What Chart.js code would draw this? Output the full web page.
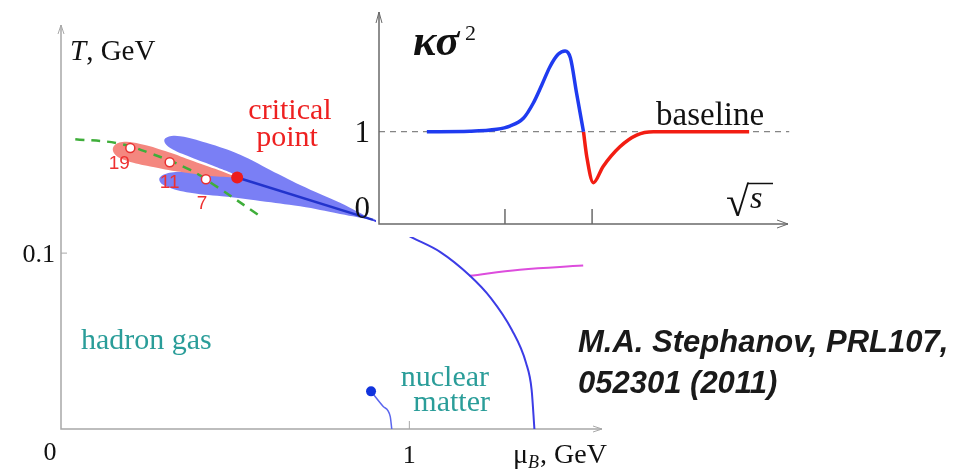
<!DOCTYPE html>
<html>
<head>
<meta charset="utf-8">
<script src="https://cdn.jsdelivr.net/npm/chart.js@4.4.0/dist/chart.umd.min.js"></script>
<style>
  html, body { margin: 0; padding: 0; background: #fff; }
  #wrap { position: relative; width: 961px; height: 471px; }
  #wrap canvas { position: absolute; left: 0; top: 0; }
</style>
</head>
<body>
<div id="wrap">
  <canvas id="phaseChart" width="961" height="471"></canvas>
  <canvas id="insetChart" width="961" height="471"></canvas>
</div>
<script>
/* global Chart */

// ---- phase diagram: mu_B (GeV) on x, T (GeV) on y ----
const xTicks = [1];
const xTickLabels = ['1'];
const yTicks = [0.1];
const yTickLabels = ['0.1'];

// blue band around the first-order line (both lobes, one outline)
const blueBand = [
  [0.8959, 0.1189], [0.8012, 0.1286], [0.6865, 0.1388], [0.6004, 0.1473],
  [0.5143, 0.1559], [0.4168, 0.1627], [0.3422, 0.1664], [0.3078, 0.1661],
  [0.2963, 0.1638], [0.3135, 0.1598], [0.3709, 0.1547], [0.4455, 0.1490],
  [0.4971, 0.1445], [0.4283, 0.1456], [0.3422, 0.1462], [0.2935, 0.1445],
  [0.2820, 0.1416], [0.2992, 0.1382], [0.3709, 0.1343], [0.4771, 0.1320],
  [0.5717, 0.1297], [0.6865, 0.1266], [0.8012, 0.1223], [0.8959, 0.1189],
];
// red band (freeze-out region)
const redBand = [
  [0.5057, 0.1430], [0.4426, 0.1479], [0.3709, 0.1530], [0.2992, 0.1581],
  [0.2275, 0.1621], [0.1758, 0.1632], [0.1500, 0.1604], [0.1558, 0.1559],
  [0.1902, 0.1524], [0.2562, 0.1493], [0.3422, 0.1462], [0.4283, 0.1439],
  [0.5057, 0.1430],
];
const criticalLine = [[0.5057, 0.1430], [0.8959, 0.1189]];
const transitionLine = [
  [0.8959, 0.1189], [0.955, 0.1140], [1.011, 0.1085], [1.088, 0.1007],
  [1.174, 0.0871], [1.234, 0.0744], [1.294, 0.0564], [1.335, 0.0375],
  [1.351, 0.0223], [1.359, 0.0],
];
const magentaLine = [[1.172, 0.0871], [1.317, 0.0906], [1.499, 0.0929]];
const nuclearLine = [[0.890, 0.0214], [0.925, 0.0128], [0.945, 0.0072], [0.9495, 0.0]];
const nuclearPoint = [[0.890, 0.0214]];
const freezeOut = [
  [0.041, 0.1648], [0.161, 0.1625], [0.256, 0.1568],
  [0.371, 0.1473], [0.447, 0.1378], [0.566, 0.1218],
];
const energies = [[0.199, 0.1597], [0.312, 0.1517], [0.416, 0.1420]];
const energyLabels = ['19', '11', '7'];
const criticalPoint = [[0.5057, 0.1430]];

// ---- inset: kappa sigma^2 vs sqrt(s) ----
const kurtBlue = [
  [1.17, 1.0], [2.22, 1.005], [2.88, 1.026], [3.20, 1.061], [3.53, 1.145],
  [3.77, 1.308], [3.98, 1.506], [4.18, 1.704], [4.38, 1.838], [4.55, 1.874],
  [4.68, 1.80], [4.83, 1.42], [5.00, 1.0],
];
const kurtRed = [
  [5.00, 1.0], [5.08, 0.729], [5.24, 0.447], [5.48, 0.624], [5.89, 0.837],
  [6.30, 0.964], [6.71, 1.0], [7.85, 1.0], [9.05, 1.0],
];
const baselineLine = [[0, 1], [10.03, 1]];
const insetXTicks = [3.08, 5.21];
const insetYTicks = [1, 0];
const insetYTickLabels = ['1', '0'];

const SERIF = "'Liberation Serif', 'DejaVu Serif', serif";
const SANS = "'Liberation Sans', Arial, sans-serif";

const pts = (arr) => arr.map(([x, y]) => ({ x, y }));

function text(ctx, str, px, py, font, color, align) {
  ctx.font = font;
  ctx.fillStyle = color;
  ctx.textAlign = align || 'left';
  ctx.textBaseline = 'alphabetic';
  ctx.fillText(str, px, py);
}

function arrowHead(ctx, px, py, dir, len, half) {
  ctx.beginPath();
  if (dir === 'right') {
    ctx.moveTo(px - len, py - half); ctx.lineTo(px, py); ctx.lineTo(px - len, py + half);
  } else {
    ctx.moveTo(px - half, py + len); ctx.lineTo(px, py); ctx.lineTo(px + half, py + len);
  }
  ctx.stroke();
}

const phaseDecor = {
  id: 'phaseDecor',
  beforeDatasetsDraw(chart) {
    const { ctx, scales: { x, y } } = chart;
    const x0 = x.getPixelForValue(0);
    const y0 = y.getPixelForValue(0);
    const xEnd = x.getPixelForValue(x.max);
    const yEnd = y.getPixelForValue(y.max);
    ctx.save();
    ctx.strokeStyle = '#a8a8a8';
    ctx.lineWidth = 1.5;
    ctx.beginPath();
    ctx.moveTo(x0, yEnd); ctx.lineTo(x0, y0); ctx.lineTo(xEnd, y0);
    ctx.stroke();
    ctx.lineWidth = 1;
    arrowHead(ctx, xEnd, y0, 'right', 9, 3);
    arrowHead(ctx, x0, yEnd, 'up', 9, 3);
    xTicks.forEach((v) => {
      const px = x.getPixelForValue(v);
      ctx.beginPath(); ctx.moveTo(px, y0); ctx.lineTo(px, y0 - 8); ctx.stroke();
    });
    yTicks.forEach((v) => {
      const py = y.getPixelForValue(v);
      ctx.beginPath(); ctx.moveTo(x0, py); ctx.lineTo(x0 + 6, py); ctx.stroke();
    });
    ctx.restore();
  },
  afterDatasetsDraw(chart) {
    const { ctx, scales: { x, y } } = chart;
    const x0 = x.getPixelForValue(0);
    const y0 = y.getPixelForValue(0);
    ctx.save();
    // tick labels
    text(ctx, '0', x0 - 11, y0 + 31, `26px ${SERIF}`, '#111', 'center');
    xTicks.forEach((v, i) => {
      text(ctx, xTickLabels[i], x.getPixelForValue(v), y0 + 34, `26px ${SERIF}`, '#111', 'center');
    });
    yTicks.forEach((v, i) => {
      text(ctx, yTickLabels[i], x0 - 6, y.getPixelForValue(v) + 9, `26px ${SERIF}`, '#111', 'right');
    });
    // axis titles
    text(ctx, 'T', 70, 59.5, `italic 29px ${SERIF}`, '#111');
    ctx.font = `italic 29px ${SERIF}`;
    text(ctx, ', GeV', 70 + ctx.measureText('T').width, 59.5, `29px ${SERIF}`, '#111');
    text(ctx, 'μ', 513, 463, `28px ${SERIF}`, '#111');
    ctx.font = `28px ${SERIF}`;
    const muW = ctx.measureText('μ').width;
    text(ctx, 'B', 513 + muW, 468, `italic 18px ${SERIF}`, '#111');
    ctx.font = `italic 18px ${SERIF}`;
    text(ctx, ', GeV', 513 + muW + ctx.measureText('B').width + 1, 463, `28px ${SERIF}`, '#111');
    // energy labels under the open circles
    const offs = [[-11, 21], [0, 26], [-4, 30]];
    energies.forEach(([ex, ey], i) => {
      text(ctx, energyLabels[i], x.getPixelForValue(ex) + offs[i][0], y.getPixelForValue(ey) + offs[i][1],
        `19px ${SANS}`, '#ee3030', 'center');
    });
    // region labels
    text(ctx, 'critical', 290, 119, `30px ${SERIF}`, '#ee2020', 'center');
    text(ctx, 'point', 287, 146, `30px ${SERIF}`, '#ee2020', 'center');
    text(ctx, 'hadron gas', 81, 349, `30px ${SERIF}`, '#2a9d99');
    text(ctx, 'nuclear', 489, 386, `30px ${SERIF}`, '#2a9d99', 'right');
    text(ctx, 'matter', 490, 411, `30px ${SERIF}`, '#2a9d99', 'right');
    text(ctx, 'M.A. Stephanov, PRL107,', 578, 352, `italic bold 31px ${SANS}`, '#1a1a1a');
    text(ctx, '052301 (2011)', 578, 393, `italic bold 31px ${SANS}`, '#1a1a1a');
    ctx.restore();
  },
};

const insetDecor = {
  id: 'insetDecor',
  beforeDraw(chart) {
    const { ctx } = chart;
    ctx.save();
    ctx.fillStyle = '#fff';
    ctx.fillRect(376, 0, 430, 237);
    ctx.restore();
  },
  beforeDatasetsDraw(chart) {
    const { ctx, scales: { x, y } } = chart;
    const x0 = x.getPixelForValue(0);
    const y0 = y.getPixelForValue(0);
    const xEnd = x.getPixelForValue(x.max);
    const yEnd = y.getPixelForValue(y.max);
    ctx.save();
    ctx.strokeStyle = '#6a6a6a';
    ctx.lineWidth = 1.5;
    ctx.beginPath();
    ctx.moveTo(x0, yEnd); ctx.lineTo(x0, y0); ctx.lineTo(xEnd, y0);
    ctx.stroke();
    ctx.lineWidth = 1;
    arrowHead(ctx, xEnd, y0, 'right', 11, 4);
    arrowHead(ctx, x0, yEnd, 'up', 11, 3);
    ctx.lineWidth = 1.5;
    insetXTicks.forEach((v) => {
      const px = x.getPixelForValue(v);
      ctx.beginPath(); ctx.moveTo(px, y0); ctx.lineTo(px, y0 - 15); ctx.stroke();
    });
    ctx.restore();
  },
  afterDatasetsDraw(chart) {
    const { ctx, scales: { x, y } } = chart;
    const x0 = x.getPixelForValue(0);
    ctx.save();
    insetYTicks.forEach((v, i) => {
      const py = y.getPixelForValue(v) + (v === 0 ? -6 : 10);
      text(ctx, insetYTickLabels[i], x0 - 9, py, `31px ${SERIF}`, '#111', 'right');
    });
    text(ctx, 'κσ', 413, 55, `italic bold 44px ${SERIF}`, '#111');
    text(ctx, '2', 465, 40, `22px ${SERIF}`, '#111');
    text(ctx, 'baseline', 656, 125, `33px ${SERIF}`, '#111');
    // sqrt(s) axis title
    text(ctx, '√', 726, 216, `42px ${SERIF}`, '#111');
    ctx.font = `42px ${SERIF}`;
    const rw = ctx.measureText('√').width;
    text(ctx, 's', 726 + rw + 1, 208, `italic 32px ${SERIF}`, '#111');
    ctx.strokeStyle = '#111';
    ctx.lineWidth = 1.5;
    ctx.beginPath(); ctx.moveTo(726 + rw - 2, 183.5); ctx.lineTo(773, 183.5); ctx.stroke();
    ctx.restore();
  },
};

function lineSet(data, color, width, extra) {
  return Object.assign({
    data: pts(data),
    showLine: true,
    borderColor: color,
    borderWidth: width,
    pointRadius: 0,
    tension: 0.4,
    clip: false,
  }, extra || {});
}

function phaseChart() {
  const datasets = [
    {
      data: pts(criticalPoint), pointRadius: 6, pointBackgroundColor: '#ee1c1c',
      pointBorderWidth: 0, clip: false,
    },
    {
      data: pts(energies), pointRadius: 4.5, pointBackgroundColor: '#fff',
      pointBorderColor: '#e83030', pointBorderWidth: 1.5, clip: false,
    },
    lineSet(freezeOut, '#3fae3a', 2.5, { borderDash: [9, 7] }),
    lineSet(criticalLine, '#2233cc', 2.5, { tension: 0 }),
    lineSet(redBand, 'rgba(0,0,0,0)', 0, { fill: 'shape', backgroundColor: '#f4877f' }),
    lineSet(blueBand, 'rgba(0,0,0,0)', 0, { fill: 'shape', backgroundColor: '#7a7ff5' }),
    lineSet(transitionLine, '#3c3ce6', 2, { cubicInterpolationMode: 'monotone' }),
    lineSet(magentaLine, '#dd4ddd', 2),
    {
      data: pts(nuclearPoint), pointRadius: 5, pointBackgroundColor: '#1133dd',
      pointBorderWidth: 0, clip: false,
    },
    lineSet(nuclearLine, '#5b66ee', 1.5, { cubicInterpolationMode: 'monotone' }),
  ];
  return new Chart(document.getElementById('phaseChart'), {
    type: 'scatter',
    data: { datasets },
    options: {
      responsive: false,
      animation: false,
      layout: { padding: { left: 61, top: 25, right: 359, bottom: 42 } },
      scales: {
        x: { type: 'linear', display: false, min: 0, max: 1.553 },
        y: { type: 'linear', display: false, min: 0, max: 0.2297 },
      },
      plugins: { legend: { display: false }, tooltip: { enabled: false } },
    },
    plugins: [phaseDecor],
  });
}

function insetChart() {
  const datasets = [
    lineSet(kurtBlue, '#1f3bf0', 3.5, { cubicInterpolationMode: 'monotone' }),
    lineSet(kurtRed, '#f21d12', 3.5, { cubicInterpolationMode: 'monotone' }),
    lineSet(baselineLine, '#666', 1, { tension: 0, borderDash: [6, 5] }),
  ];
  return new Chart(document.getElementById('insetChart'), {
    type: 'scatter',
    data: { datasets },
    options: {
      responsive: false,
      animation: false,
      layout: { padding: { left: 379, top: 12, right: 173, bottom: 247 } },
      scales: {
        x: { type: 'linear', display: false, min: 0, max: 10 },
        y: { type: 'linear', display: false, min: 0, max: 2.297 },
      },
      plugins: { legend: { display: false }, tooltip: { enabled: false } },
    },
    plugins: [insetDecor],
  });
}

phaseChart();
insetChart();
</script>
</body>
</html>
